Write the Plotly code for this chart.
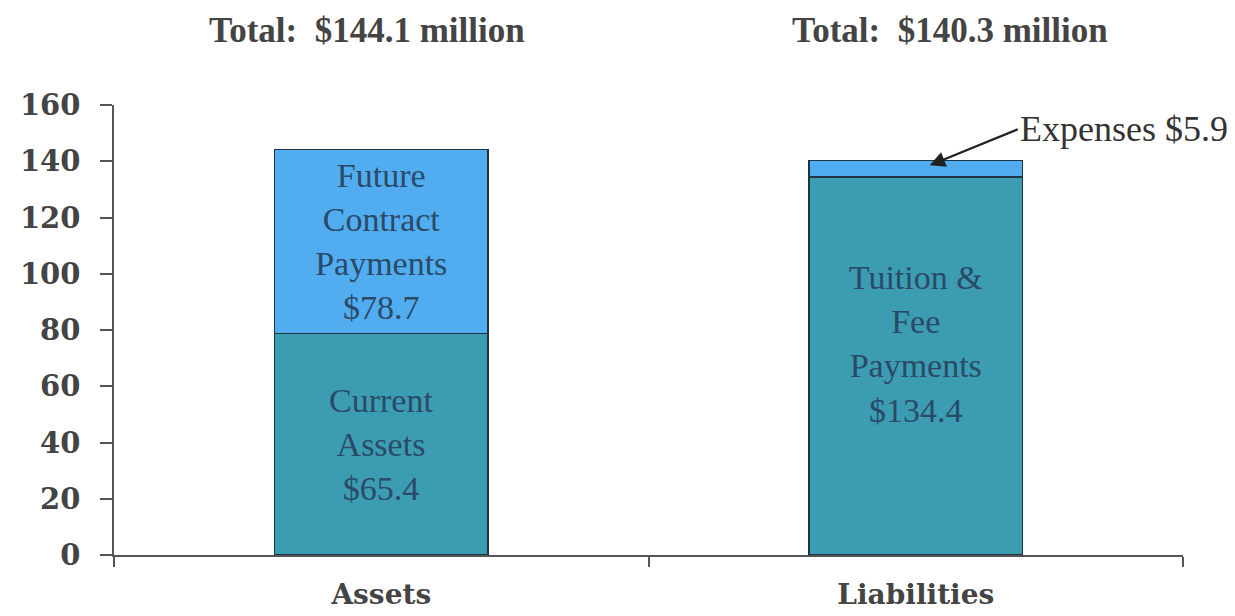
import plotly.graph_objects as go

categories = ["Assets", "Liabilities"]
bottom_values = [78.7, 134.4]
top_values = [65.4, 5.9]
bottom_labels = ["Current<br>Assets<br>$65.4", "Tuition &<br>Fee<br>Payments<br>$134.4<br> "]
top_labels = ["Future<br>Contract<br>Payments<br>$78.7", ""]
totals = ["Total:  $144.1 million", "Total:  $140.3 million"]
y_ticks = [0, 20, 40, 60, 80, 100, 120, 140, 160]

bar_text_font = dict(family="Liberation Serif", size=34, color="#2a4a68")
edge = dict(color="#1e3442", width=1.5)

fig = go.Figure()
fig.add_trace(go.Bar(
    x=categories, y=bottom_values, text=bottom_labels,
    marker=dict(color="#3c9cb2", line=edge),
    textposition="inside", insidetextanchor="middle",
    textfont=bar_text_font, hoverinfo="skip", width=0.4,
))
fig.add_trace(go.Bar(
    x=categories, y=top_values, text=top_labels,
    marker=dict(color="#52adf0", line=edge),
    textposition="inside", insidetextanchor="middle",
    textfont=bar_text_font, hoverinfo="skip", width=0.4,
))

fig.update_layout(
    barmode="stack",
    showlegend=False,
    width=1227, height=608,
    margin=dict(l=106, r=52, t=97, b=61),
    paper_bgcolor="white", plot_bgcolor="white",
    uniformtext=dict(minsize=20, mode="show"),
)
fig.update_yaxes(
    range=[0, 160], tickvals=y_ticks, showgrid=False, zeroline=False,
    showline=True, linecolor="#555", linewidth=1.5,
    ticks="outside", ticklen=12, tickcolor="#555", tickwidth=1.5,
    ticklabelstandoff=14, automargin=False,
    tickfont=dict(family="DejaVu Serif", size=29, color="#444", weight="bold"),
)
fig.update_xaxes(
    range=[-0.5, 1.5],
    showgrid=False, zeroline=False,
    showline=True, linecolor="#555", linewidth=1.5,
    ticks="outside", ticklen=10, tickcolor="#555", tickwidth=1.5,
    tickson="boundaries", ticklabelstandoff=14, automargin=False,
    tickfont=dict(family="DejaVu Serif", size=28, color="#444", weight="bold"),
)

title_font = dict(family="Liberation Serif", size=35, color="#444")
for xpos, t in zip([0.237, 0.782], totals):
    fig.add_annotation(
        text="<b>" + t + "</b>", xref="paper", yref="paper",
        x=xpos, y=1.0, yshift=96, showarrow=False, font=title_font,
        xanchor="center", yanchor="top",
    )

fig.add_annotation(
    x=categories[1], y=bottom_values[1] + top_values[1] / 2 + 1.2,
    xshift=14,
    text="Expenses $5.9", showarrow=True,
    ax=88, ay=-36, xanchor="left", yanchor="middle",
    arrowhead=2, arrowsize=1.4, arrowwidth=2.2, arrowcolor="#222",
    font=dict(family="Liberation Serif", size=36, color="#333"),
)

fig.write_html("out.html")
